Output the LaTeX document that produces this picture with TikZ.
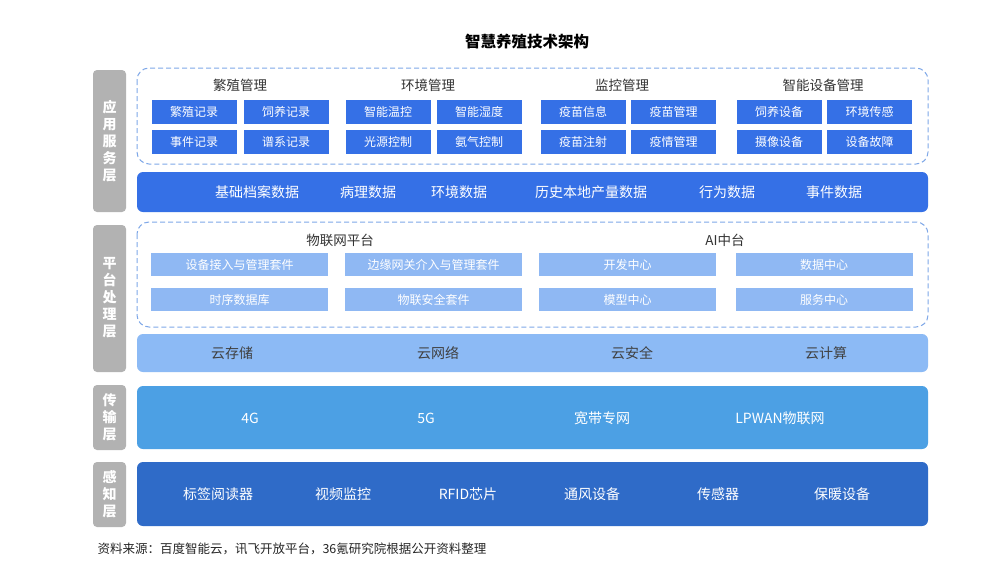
\documentclass[tikz,border=0pt]{standalone}
\usepackage{fontspec}
\setmainfont{Noto Sans CJK SC}
\begin{document}
\begin{tikzpicture}[x=1pt,y=-1pt,
 side/.style={fill=gray!60,rounded corners=4pt,draw=none},
 sidet/.style={text=white,font=\fontsize{14}{17}\selectfont\bfseries,align=center},
 dashbox/.style={draw=dashc,dash pattern=on 5pt off 3pt,line width=1pt,rounded corners=12pt},
 sb/.style={fill=dblue,text=white,font=\fontsize{12}{13}\selectfont,minimum width=85pt,minimum height=24pt,inner sep=0pt},
 lb/.style={fill=lblue,text=white,font=\fontsize{12}{13}\selectfont,minimum width=177pt,minimum height=23pt,inner sep=0pt},
 ttl/.style={font=\fontsize{13.5}{15}\selectfont,text=black!80},
 bt/.style={font=\fontsize{14}{15}\selectfont,text=white}]
\definecolor{dblue}{HTML}{3570E6}
\definecolor{lblue}{HTML}{8FB8F3}
\definecolor{cloud}{HTML}{8CBAF5}
\definecolor{trans}{HTML}{4CA0E4}
\definecolor{perc}{HTML}{2F6BC8}
\definecolor{dashc}{HTML}{7FA8E8}
\useasboundingbox (0,0) rectangle (1000,562);
\fill[white] (0,0) rectangle (1000,562);
\node[font=\fontsize{15.5}{17}\selectfont\bfseries] (title) at (527,42) {智慧养殖技术架构};
% side labels
\fill[side] (93,70) rectangle (126,212);
\node[sidet] (s1) at (109.5,141) {应\\用\\服\\务\\层};
\fill[side] (93,225) rectangle (126,372);
\node[sidet] (s2) at (109.5,298) {平\\台\\处\\理\\层};
\fill[side] (93,385) rectangle (126,450);
\node[sidet] (s3) at (109.5,417) {传\\输\\层};
\fill[side] (93,462) rectangle (126,527);
\node[sidet] (s4) at (109.5,494) {感\\知\\层};
% app layer
\draw[dashbox] (137,68) rectangle (928,164);
\foreach \t/\x in {繁殖管理/240,环境管理/428,监控管理/622,智能设备管理/823}
  \node[ttl] at (\x,85) {\t};
\foreach \t/\x/\y in {繁殖记录/194/112,饲养记录/286/112,事件记录/194/141.5,谱系记录/286/141.5,
  智能温控/388/112,智能湿度/479/112,光源控制/388/141.5,氨气控制/479/141.5,
  疫苗信息/583/112,疫苗管理/673.5/112,疫苗注射/583/141.5,疫情管理/673.5/141.5,
  饲养设备/779/112,环境传感/869.5/112,摄像设备/779/141.5,设备故障/869.5/141.5}
  \node[sb] at (\x,\y) {\t};
\fill[dblue,rounded corners=6pt] (137,172) rectangle (928,212);
\foreach \t/\x in {基础档案数据/257,病理数据/368,环境数据/459,历史本地产量数据/591,行为数据/727,事件数据/834}
  \node[bt] at (\x,192) {\t};
% platform
\draw[dashbox] (137,222) rectangle (928,327);
\node[ttl] (iot) at (340,240) {物联网平台};
\node[ttl] (ai) at (725,240) {AI中台};
\foreach \t/\x/\y in {设备接入与管理套件/239.5/264.5,边缘网关介入与管理套件/433.5/264.5,开发中心/627.5/264.5,数据中心/824/264.5,
  时序数据库/239.5/299.5,物联安全套件/433.5/299.5,模型中心/627.5/299.5,服务中心/824/299.5}
  \node[lb] at (\x,\y) {\t};
\fill[cloud,rounded corners=6pt] (137,334) rectangle (928,372);
\foreach \t/\x in {云存储/232,云网络/438,云安全/632,云计算/826}
  \node[bt,text=black!75] at (\x,353) {\t};
% transmission
\fill[trans,rounded corners=6pt] (137,386) rectangle (928,449);
\foreach \t/\x in {4G/250,5G/426,宽带专网/602,LPWAN物联网/780}
  \node[bt] at (\x,418) {\t};
% perception
\fill[perc,rounded corners=6pt] (137,462) rectangle (928,526);
\foreach \t/\x in {标签阅读器/218,视频监控/343,RFID芯片/468,通风设备/592,传感器/718,保暖设备/842}
  \node[bt] at (\x,494) {\t};
\node[anchor=west,font=\fontsize{12.5}{14}\selectfont,text=black!85] (src) at (94,549) {资料来源：百度智能云，讯飞开放平台，36氪研究院根据公开资料整理};
\end{tikzpicture}
\end{document}
